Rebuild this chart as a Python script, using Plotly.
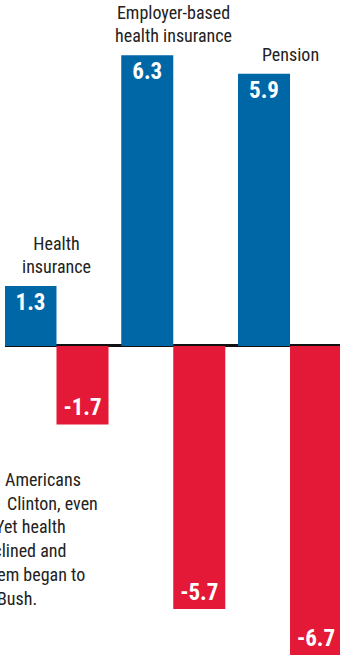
import plotly.graph_objects as go

# Percentage-point change by benefit type
categories = ["Health insurance", "Employer-based health insurance", "Pension"]
category_labels = ["Health<br>insurance", "Employer-based<br>health insurance", "Pension"]
clinton_change = [1.3, 6.3, 5.9]
bush_change = [-1.7, -5.7, -6.7]

body_lines = ["Americans", "Clinton, even", "Yet health", "declined and", "system began to", "Bush."]

BLUE = "#0067A6"
RED = "#E31937"
INK = "#222222"
FONT = "Roboto Condensed, DejaVu Sans Condensed, sans-serif"

value_font = dict(family=FONT, size=23, color="white", weight="bold")

fig = go.Figure()
fig.add_bar(
    x=categories, y=clinton_change, name="Clinton",
    marker=dict(color=BLUE, line=dict(width=0)),
    text=[f"{v:.1f}" for v in clinton_change],
    textposition="inside", insidetextanchor="end",
    textfont=value_font,
)
fig.add_bar(
    x=categories, y=bush_change, name="Bush",
    marker=dict(color=RED, line=dict(width=0)),
    text=[f"{v:.1f}" for v in bush_change],
    textposition="inside", insidetextanchor="end",
    textfont=value_font,
)

# Category names sit just above each blue bar
for cat, label, v in zip(categories, category_labels, clinton_change):
    fig.add_annotation(
        x=cat, y=v, text=label, showarrow=False,
        xanchor="center", yanchor="bottom", yshift=7,
        font=dict(family=FONT, size=18, color=INK),
    )

# Explanatory paragraph running in from the left edge
line_right = [83, 100, 68, 68, 87, 39]
for i, (line, right) in enumerate(zip(body_lines, line_right)):
    fig.add_annotation(
        xref="paper", yref="paper",
        x=(right - 5) / 335, y=1 - (491.7 + 23.8 * i) / 656,
        text=line, showarrow=False, xanchor="right", yanchor="bottom",
        font=dict(family=FONT, size=18, color=INK),
    )

fig.update_layout(
    width=340, height=656,
    margin=dict(l=5, r=0, t=0, b=0),
    paper_bgcolor="white", plot_bgcolor="white",
    barmode="group", bargap=0.109, bargroupgap=0,
    showlegend=False,
    xaxis=dict(visible=False, range=[-0.441, 2.428]),
    yaxis=dict(
        range=[-6.72, 7.50], showgrid=False, showticklabels=False, ticks="",
        zeroline=True, zerolinecolor="#111111", zerolinewidth=2.5,
        layer="above traces",
    ),
)

fig.write_html("out.html")
